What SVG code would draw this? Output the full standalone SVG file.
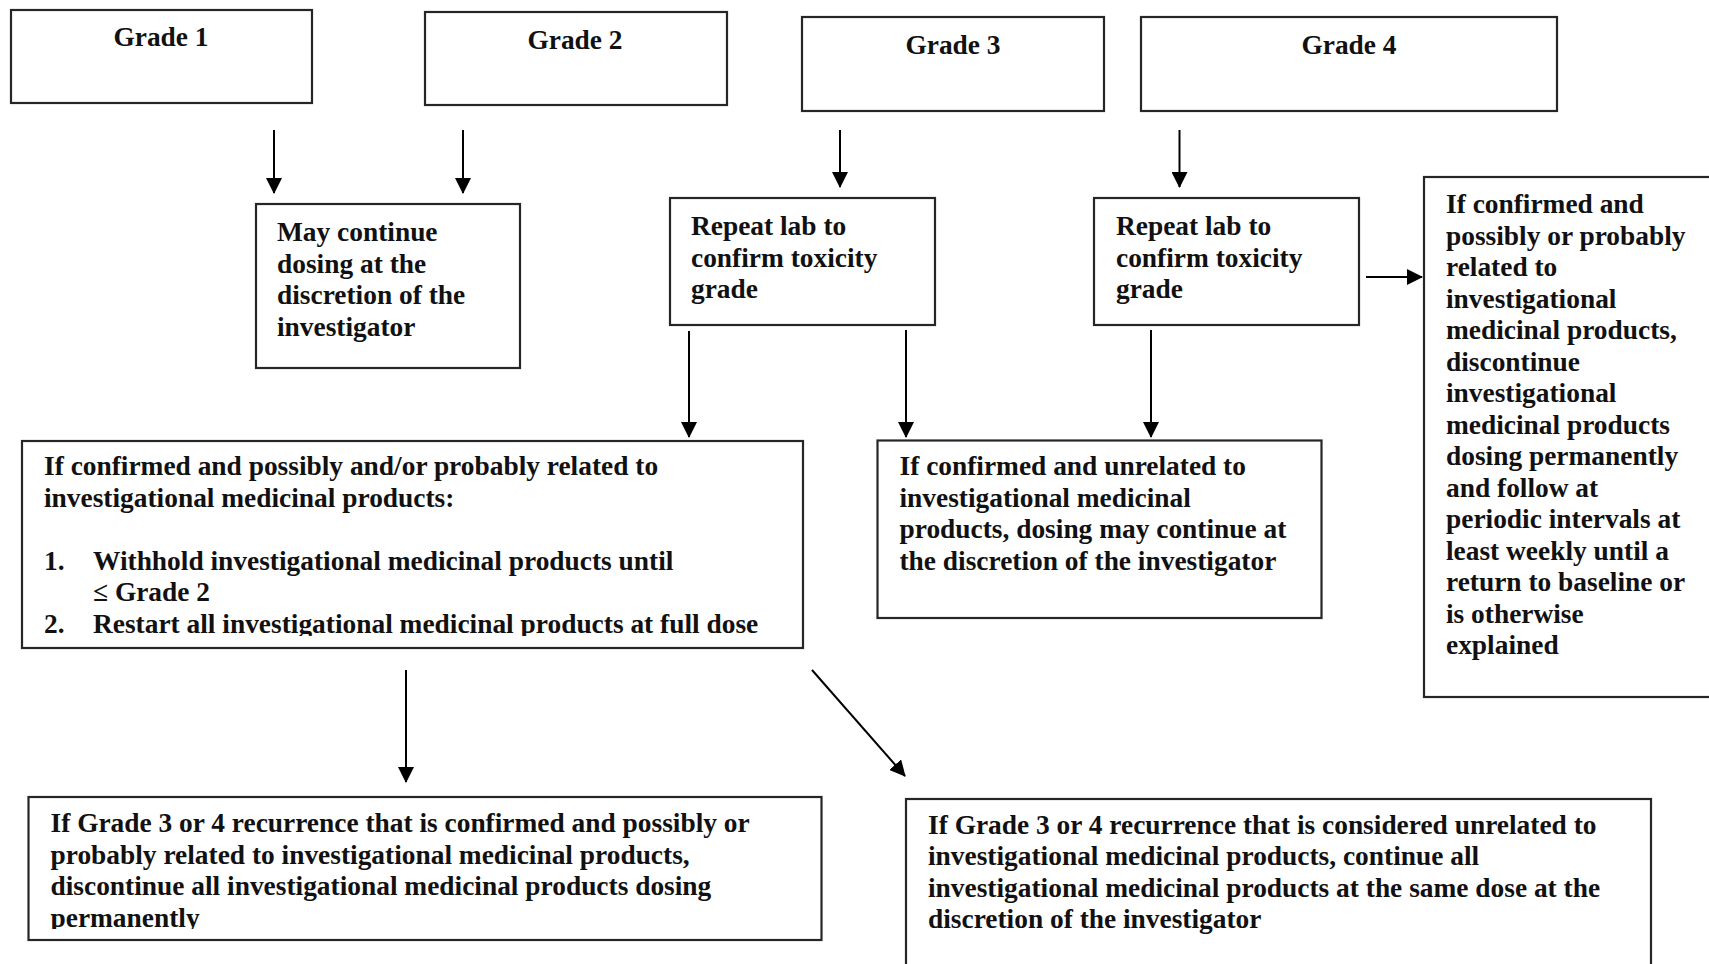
<svg xmlns="http://www.w3.org/2000/svg" width="1709" height="964" viewBox="0 0 1709 964">
<style>
.box{fill:#fff;stroke:#262626;stroke-width:2.2}
.t{font-family:"Liberation Serif","Times New Roman",serif;font-weight:bold;font-size:27.4px;fill:#111}
.c{text-anchor:middle}
.ln{stroke:#000;stroke-width:2;fill:none;marker-end:url(#ah)}
</style>
<defs>
<marker id="ah" markerUnits="userSpaceOnUse" markerWidth="16" markerHeight="16" refX="15" refY="8" orient="auto">
<path d="M0,0 L16,8 L0,16 z" fill="#000"/>
</marker>
<clipPath id="clipL"><rect x="22" y="441" width="781" height="195"/></clipPath>
<clipPath id="clipBL"><rect x="28" y="797" width="793" height="132"/></clipPath>
</defs>
<rect width="1709" height="964" fill="#fff"/>

<g id="grade1">
<rect class="box" x="11" y="10" width="301" height="93"/>
<text class="t c" x="161" y="46">Grade 1</text>
</g>
<g id="grade2">
<rect class="box" x="425" y="12" width="302" height="93"/>
<text class="t c" x="575" y="49">Grade 2</text>
</g>
<g id="grade3">
<rect class="box" x="802" y="17" width="302" height="94"/>
<text class="t c" x="953" y="54">Grade 3</text>
</g>
<g id="grade4">
<rect class="box" x="1141" y="17" width="416" height="94"/>
<text class="t c" x="1349" y="54">Grade 4</text>
</g>

<g id="may-continue">
<rect class="box" x="256" y="204" width="264" height="164"/>
<text class="t" x="277" y="241">May continue</text>
<text class="t" x="277" y="272.5">dosing at the</text>
<text class="t" x="277" y="304">discretion of the</text>
<text class="t" x="277" y="335.5">investigator</text>
</g>

<g id="repeat-lab-3">
<rect class="box" x="670" y="198" width="265" height="127"/>
<text class="t" x="691" y="235">Repeat lab to</text>
<text class="t" x="691" y="266.5">confirm toxicity</text>
<text class="t" x="691" y="298">grade</text>
</g>

<g id="repeat-lab-4">
<rect class="box" x="1094" y="198" width="265" height="127"/>
<text class="t" x="1116" y="235">Repeat lab to</text>
<text class="t" x="1116" y="266.5">confirm toxicity</text>
<text class="t" x="1116" y="298">grade</text>
</g>

<g id="grade4-related">
<rect class="box" x="1424" y="177" width="300" height="520"/>
<text class="t" x="1446" y="213">If confirmed and</text>
<text class="t" x="1446" y="244.5">possibly or probably</text>
<text class="t" x="1446" y="276">related to</text>
<text class="t" x="1446" y="307.5">investigational</text>
<text class="t" x="1446" y="339">medicinal products,</text>
<text class="t" x="1446" y="370.5">discontinue</text>
<text class="t" x="1446" y="402">investigational</text>
<text class="t" x="1446" y="433.5">medicinal products</text>
<text class="t" x="1446" y="465">dosing permanently</text>
<text class="t" x="1446" y="496.5">and follow at</text>
<text class="t" x="1446" y="528">periodic intervals at</text>
<text class="t" x="1446" y="559.5">least weekly until a</text>
<text class="t" x="1446" y="591">return to baseline or</text>
<text class="t" x="1446" y="622.5">is otherwise</text>
<text class="t" x="1446" y="654">explained</text>
</g>

<g id="grade3-related">
<rect class="box" x="22" y="441" width="781" height="207"/>
<g clip-path="url(#clipL)">
<text class="t" x="44" y="475">If confirmed and possibly and/or probably related to</text>
<text class="t" x="44" y="506.5">investigational medicinal products:</text>
<text class="t" x="44" y="569.5">1.</text>
<text class="t" x="93" y="569.5">Withhold investigational medicinal products until</text>
<text class="t" x="93" y="601">≤ Grade 2</text>
<text class="t" x="44" y="632.5">2.</text>
<text class="t" x="93" y="632.5">Restart all investigational medicinal products at full dose</text>
</g>
</g>

<g id="unrelated">
<rect class="box" x="877.5" y="440.5" width="444" height="177.5"/>
<text class="t" x="899.5" y="475">If confirmed and unrelated to</text>
<text class="t" x="899.5" y="506.5">investigational medicinal</text>
<text class="t" x="899.5" y="538">products, dosing may continue at</text>
<text class="t" x="899.5" y="569.5">the discretion of the investigator</text>
</g>

<g id="recurrence-related">
<rect class="box" x="28.5" y="797" width="793" height="143"/>
<g clip-path="url(#clipBL)">
<text class="t" x="50.5" y="832">If Grade 3 or 4 recurrence that is confirmed and possibly or</text>
<text class="t" x="50.5" y="863.5">probably related to investigational medicinal products,</text>
<text class="t" x="50.5" y="895">discontinue all investigational medicinal products dosing</text>
<text class="t" x="50.5" y="926.5">permanently</text>
</g>
</g>

<g id="recurrence-unrelated">
<rect class="box" x="906" y="799" width="745" height="190"/>
<text class="t" x="928" y="833.5">If Grade 3 or 4 recurrence that is considered unrelated to</text>
<text class="t" x="928" y="865">investigational medicinal products, continue all</text>
<text class="t" x="928" y="896.5">investigational medicinal products at the same dose at the</text>
<text class="t" x="928" y="928">discretion of the investigator</text>
</g>

<g id="connectors">
<line class="ln" x1="274" y1="130" x2="274" y2="193"/>
<line class="ln" x1="463" y1="130" x2="463" y2="193"/>
<line class="ln" x1="840" y1="130" x2="840" y2="187"/>
<line class="ln" x1="1179.5" y1="130" x2="1179.5" y2="187"/>
<line class="ln" x1="689" y1="331" x2="689" y2="437"/>
<line class="ln" x1="906" y1="330" x2="906" y2="437"/>
<line class="ln" x1="1151" y1="330" x2="1151" y2="437"/>
<line class="ln" x1="1366" y1="277" x2="1422" y2="277"/>
<line class="ln" x1="406" y1="670" x2="406" y2="782"/>
<line class="ln" x1="812" y1="670" x2="905" y2="776"/>
</g>
</svg>
